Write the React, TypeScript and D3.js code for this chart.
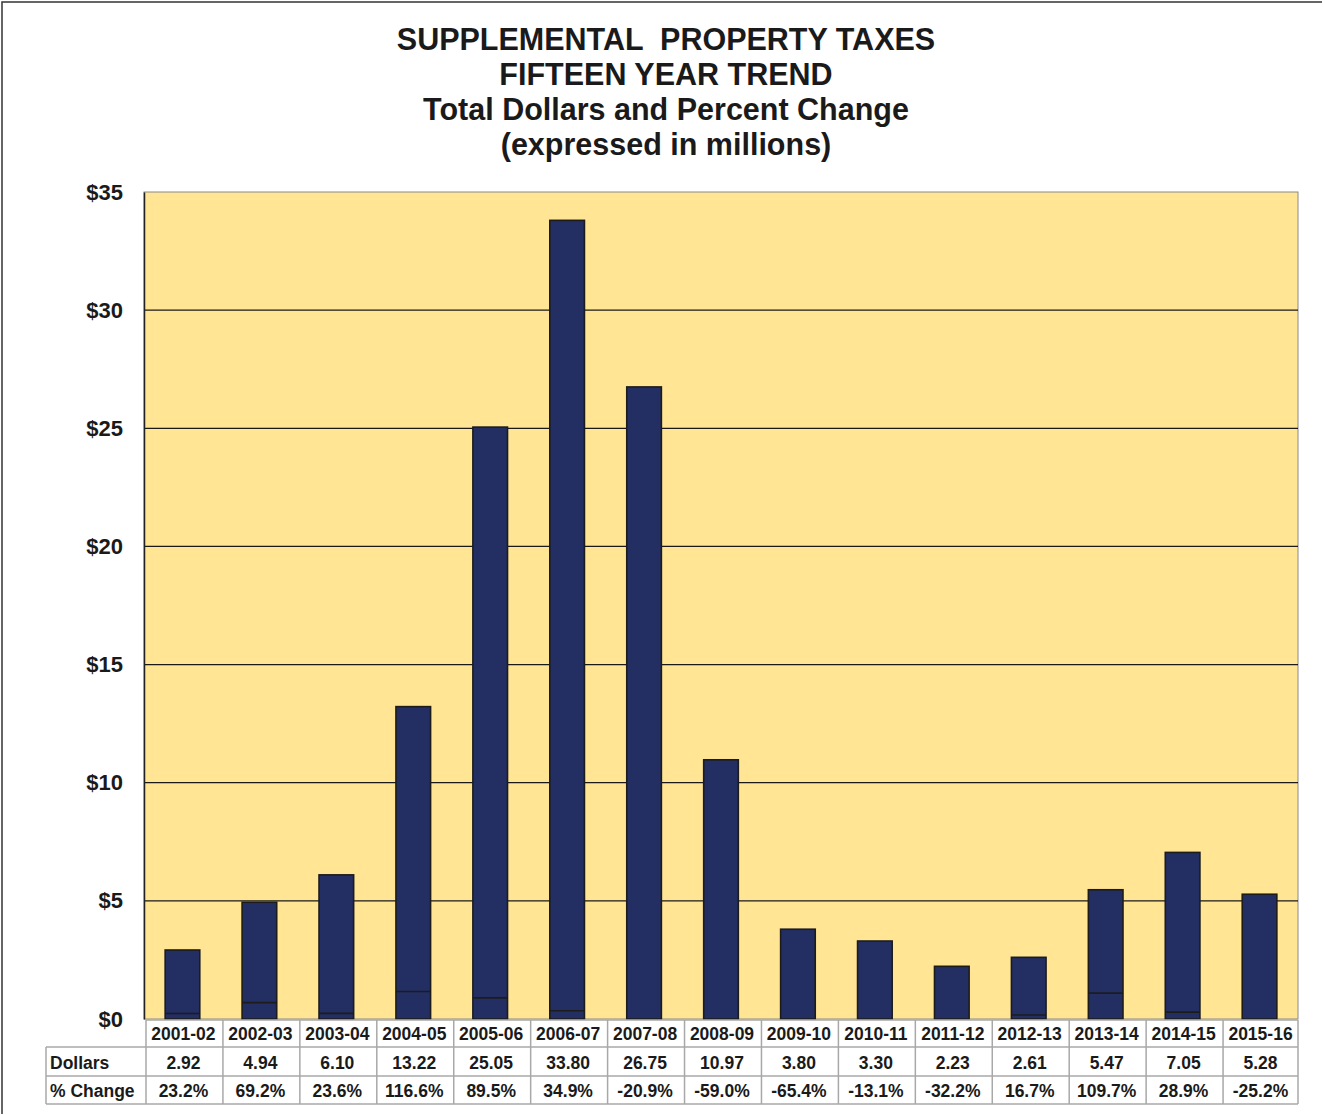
import React, { useEffect, useRef } from "react";
import * as d3 from "d3";

const years = ["2001-02", "2002-03", "2003-04", "2004-05", "2005-06", "2006-07", "2007-08", "2008-09", "2009-10", "2010-11", "2011-12", "2012-13", "2013-14", "2014-15", "2015-16"];
const dollars = [2.92, 4.94, 6.1, 13.22, 25.05, 33.8, 26.75, 10.97, 3.8, 3.3, 2.23, 2.61, 5.47, 7.05, 5.28];
const pctChange = [23.2, 69.2, 23.6, 116.6, 89.5, 34.9, -20.9, -59.0, -65.4, -13.1, -32.2, 16.7, 109.7, 28.9, -25.2];
const yTicks = [0, 5, 10, 15, 20, 25, 30, 35];
const titleLines = ["SUPPLEMENTAL  PROPERTY TAXES", "FIFTEEN YEAR TREND", "Total Dollars and Percent Change", "(expressed in millions)"];

const App = () => {
  const ref = useRef<SVGSVGElement>(null);

  useEffect(() => {
    const width = 1325;
    const height = 1115;
    const margin = { top: 192, left: 144, right: 27, bottom: 96 };
    const iwidth = width - margin.left - margin.right;
    const iheight = height - margin.top - margin.bottom;
    const font = "'Liberation Sans', Arial, sans-serif";

    const svg = d3.select(ref.current);
    svg.selectAll("*").remove();
    svg.attr("width", width).attr("height", height);

    // outer frame
    svg.append("path")
      .attr("d", `M2,1114 V2 H1322`)
      .attr("fill", "none")
      .attr("stroke", "#333")
      .attr("stroke-width", 1.5);

    // titles
    svg.append("g").selectAll("text").data(titleLines).enter().append("text")
      .attr("x", 666)
      .attr("y", (d, i) => 50 + i * 35)
      .attr("text-anchor", "middle")
      .style("font-family", font)
      .style("font-weight", "bold")
      .style("font-size", "30.5px")
      .style("white-space", "pre")
      .attr("fill", "#1a1a1a")
      .text(d => d);

    const g = svg.append("g").attr("transform", `translate(${margin.left},${margin.top})`);

    const y = d3.scaleLinear().domain([0, 35]).range([iheight, 0]);
    const x = d3.scaleBand().domain(years).range([0, iwidth]).paddingInner(0.55).paddingOuter(0.275);
    const xCol = d3.scaleBand().domain(years).range([0, iwidth]);

    g.append("rect")
      .attr("x", 0).attr("y", 0).attr("width", iwidth).attr("height", iheight)
      .attr("fill", "#FFE594")
      .attr("stroke", "#8a8a8a")
      .attr("stroke-width", 1);

    // gridlines
    g.append("g").selectAll("line").data(yTicks.filter(t => t > 0 && t < 35)).enter().append("line")
      .attr("x1", 0).attr("x2", iwidth)
      .attr("y1", d => y(d)).attr("y2", d => y(d))
      .attr("stroke", "#1a1a1a").attr("stroke-width", 1.2);

    // y axis
    const yAxis = g.append("g").call(d3.axisLeft(y).tickValues(yTicks).tickSize(0).tickPadding(21).tickFormat(d => `$${d}`));
    yAxis.select(".domain").attr("stroke", "#222").attr("stroke-width", 1.5);
    yAxis.selectAll("text")
      .style("font-family", font).style("font-weight", "bold").style("font-size", "22px").attr("fill", "#1a1a1a");

    // bars
    g.append("g").selectAll("rect").data(years).enter().append("rect")
      .attr("x", d => x(d)!)
      .attr("y", (d, i) => y(dollars[i]))
      .attr("width", x.bandwidth())
      .attr("height", (d, i) => iheight - y(dollars[i]))
      .attr("fill", "#232E63")
      .attr("stroke", "#1c1c1c")
      .attr("stroke-width", 1.6);

    // percent change overlay (positive only visible)
    g.append("g").selectAll("line").data(years.filter((d, i) => pctChange[i] > 0)).enter().append("line")
      .attr("x1", d => x(d)!)
      .attr("x2", d => x(d)! + x.bandwidth())
      .attr("y1", d => y(pctChange[years.indexOf(d)] / 100))
      .attr("y2", d => y(pctChange[years.indexOf(d)] / 100))
      .attr("stroke", "#1c1c1c").attr("stroke-width", 1.6);

    // data table
    const t = g.append("g").attr("transform", `translate(0,${iheight})`);
    const rowY = [1, 28, 57, 85];
    const labelLeft = -98;
    const grid = "#a8a8a8";
    t.append("line").attr("x1", 2).attr("x2", iwidth).attr("y1", rowY[0]).attr("y2", rowY[0]).attr("stroke", grid).attr("stroke-width", 1.5);
    [rowY[1], rowY[2], rowY[3]].forEach(yy => {
      t.append("line").attr("x1", labelLeft).attr("x2", iwidth).attr("y1", yy).attr("y2", yy).attr("stroke", grid).attr("stroke-width", 1.5);
    });
    t.append("line").attr("x1", labelLeft).attr("x2", labelLeft).attr("y1", rowY[1]).attr("y2", rowY[3]).attr("stroke", grid).attr("stroke-width", 1.5);
    t.append("g").selectAll("line").data(years).enter().append("line")
      .attr("x1", d => xCol(d)! + 2).attr("x2", d => xCol(d)! + 2)
      .attr("y1", rowY[0]).attr("y2", rowY[3])
      .attr("stroke", grid).attr("stroke-width", 1.5);
    t.append("line").attr("x1", iwidth).attr("x2", iwidth).attr("y1", rowY[0]).attr("y2", rowY[3]).attr("stroke", grid).attr("stroke-width", 1.5);

    const cellText = (sel: any) => sel
      .style("font-family", font).style("font-weight", "bold").style("font-size", "17.5px").attr("fill", "#1a1a1a");

    const rows = [
      { vals: years, yy: 21 },
      { vals: dollars.map(v => v.toFixed(2)), yy: 50 },
      { vals: pctChange.map(v => `${v.toFixed(1)}%`), yy: 78 },
    ];
    rows.forEach(r => {
      t.append("g").selectAll("text").data(r.vals).enter().append("text")
        .attr("x", (d, i) => xCol(years[i])! + xCol.bandwidth() / 2 + 1)
        .attr("y", r.yy)
        .attr("text-anchor", "middle")
        .call(cellText)
        .text(d => d);
    });
    t.append("text").attr("x", labelLeft + 4).attr("y", 50).call(cellText).text("Dollars");
    t.append("text").attr("x", labelLeft + 4).attr("y", 78).call(cellText).text("% Change");
  }, []);

  return <svg ref={ref} style={{ position: "absolute", left: 0, top: 0 }} />;
};

export default App;
